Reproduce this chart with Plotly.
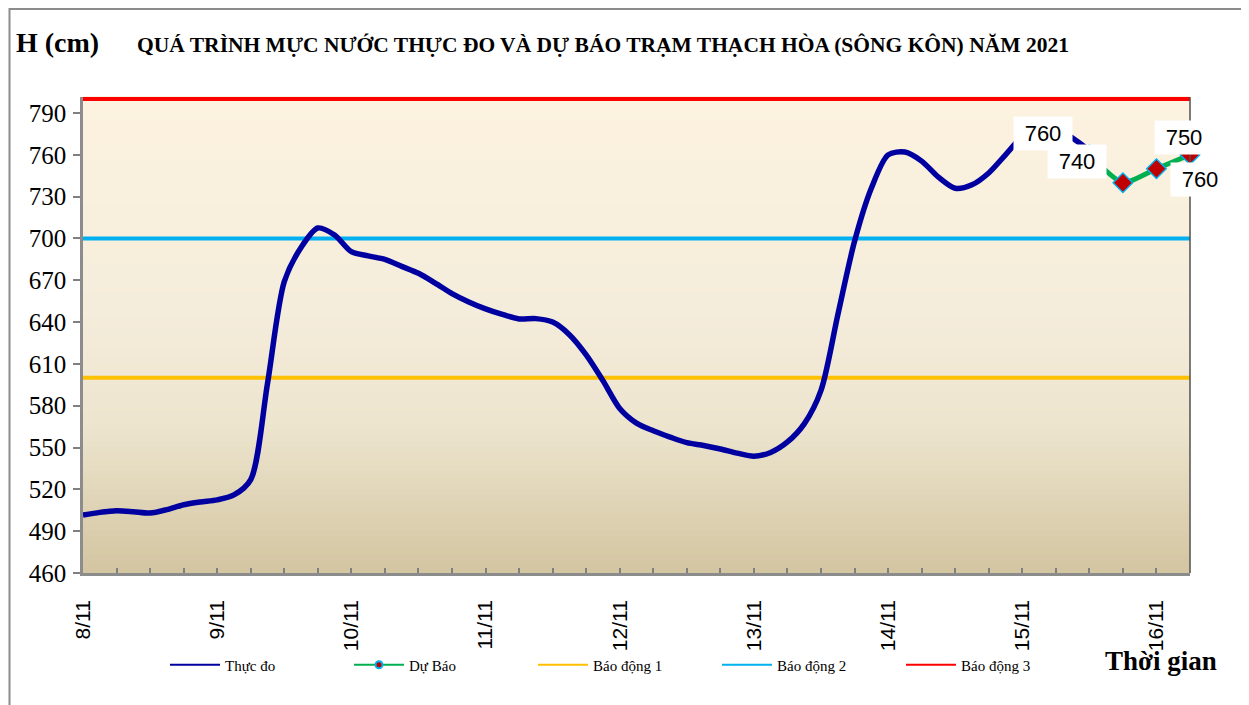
import plotly.graph_objects as go

# ---------------- data ----------------
DAY_LABELS = ["8/11", "9/11", "10/11", "11/11", "12/11", "13/11", "14/11", "15/11", "16/11"]
DAY_HOURS = [0, 24, 48, 72, 96, 120, 144, 168, 192]

OBS_HOURS = [0, 3, 6, 9, 12, 15, 18, 21, 24, 27, 30, 33, 36, 39, 42, 45, 48, 51, 54, 57,
             60, 63, 66, 69, 72, 75, 78, 81, 84, 87, 90, 93, 96, 99, 102, 105, 108, 111,
             114, 117, 120, 123, 126, 129, 132, 135, 138, 141, 144, 147, 150, 153, 156,
             159, 162, 165, 168, 171, 174, 177, 180]
OBS_LEVEL = [501.5, 503.5, 504.7, 504, 503, 505.5, 509, 511, 512.5, 516, 527, 596, 669,
             693.5, 707.5, 702.5, 690.5, 687.5, 685, 680, 675, 668, 660.5, 654.5, 649.5,
             645.5, 642.3, 642.5, 640, 631, 616.5, 598, 578, 567.5, 562, 557.5, 553.5,
             551.5, 549, 546, 543.8, 546.5, 554, 567, 591, 645, 698, 736, 760, 762,
             755.5, 744, 736, 738.5, 747, 760, 773, 779, 778, 772, 763]

FC_HOURS = [180, 186, 192, 198]
FC_LEVEL = [760, 740, 750, 760]

ALARM_NAMES = ["Báo động 1", "Báo động 2", "Báo động 3"]
ALARM_LEVELS = [600, 700, 800]
ALARM_COLORS = ["#FFC000", "#00B0F0", "#FF0000"]

Y_TICKS = [460, 490, 520, 550, 580, 610, 640, 670, 700, 730, 760, 790]

# ---------------- layout geometry ----------------
# the page body has an 8px margin, so work in page pixels minus that offset
OFF = 8
W, H = 1249 - OFF, 705 - OFF
L, T = 83 - OFF, 97 - OFF
PR, PB = 1190 - OFF, 573 - OFF          # plot right / bottom edges
R, B = W - PR, H - PB
PW, PH = PR - L, PB - T


def px(xp):
    return (xp - OFF - L) / PW


def py(yp):
    return (PB - (yp - OFF)) / PH


X_MIN = min(OBS_HOURS)
X_MAX = max(FC_HOURS)

OBS_COLOR, FC_COLOR = "#0000A0", "#00B050"

fig = go.Figure()

# alarm levels (drawn first, beneath the data lines)
for name, lvl, col in zip(ALARM_NAMES, ALARM_LEVELS, ALARM_COLORS):
    fig.add_trace(go.Scatter(
        x=[X_MIN, X_MAX], y=[lvl, lvl], name=name, mode="lines",
        line=dict(color=col, width=4), showlegend=False,
    ))
# observed
fig.add_trace(go.Scatter(
    x=OBS_HOURS, y=OBS_LEVEL, name="Thực đo", mode="lines",
    line=dict(color=OBS_COLOR, width=5.5, shape="spline", smoothing=0.8),
    showlegend=False,
))
# forecast
fig.add_trace(go.Scatter(
    x=FC_HOURS, y=FC_LEVEL, name="Dự Báo", mode="lines+markers",
    line=dict(color=FC_COLOR, width=5, shape="spline", smoothing=0.6),
    marker=dict(symbol="diamond", size=15, color="#C00000",
                line=dict(color="#00B0F0", width=1.5)),
    cliponaxis=False, showlegend=False,
))

# legend entries (thin samples, as in the original legend)
fig.add_trace(go.Scatter(x=[None], y=[None], name="Thực đo", mode="lines",
                         line=dict(color=OBS_COLOR, width=2)))
fig.add_trace(go.Scatter(x=[None], y=[None], name="Dự Báo", mode="lines+markers",
                         line=dict(color=FC_COLOR, width=2),
                         marker=dict(symbol="circle", size=7, color="#C00000",
                                     line=dict(color="#00B0F0", width=2))))
for name, col in zip(ALARM_NAMES, ALARM_COLORS):
    fig.add_trace(go.Scatter(x=[None], y=[None], name=name, mode="lines",
                             line=dict(color=col, width=2)))

# ---------------- background gradient ----------------
stops = [(0.0, (252, 242, 223)), (0.45, (245, 237, 219)), (0.7, (236, 228, 205)),
         (1.0, (211, 197, 161))]


def grad(t):
    for (t0, c0), (t1, c1) in zip(stops[:-1], stops[1:]):
        if t0 <= t <= t1:
            f = (t - t0) / (t1 - t0)
            return "rgb(%d,%d,%d)" % tuple(round(a + (b - a) * f) for a, b in zip(c0, c1))
    return "rgb(%d,%d,%d)" % stops[-1][1]


shapes = []
N = 80
for i in range(N):
    t = (i + 0.5) / N
    shapes.append(dict(type="rect", xref="paper", yref="paper", x0=0, x1=1,
                       y0=1 - (i + 1) / N - 0.002, y1=1 - i / N + 0.002,
                       fillcolor=grad(t), line=dict(width=0), layer="below"))
# right border of plot
shapes.append(dict(type="line", xref="paper", yref="paper", x0=1, x1=1, y0=0, y1=1,
                   line=dict(color="#505050", width=1.5), layer="above"))
# outer frame
shapes.append(dict(type="rect", xref="paper", yref="paper",
                   x0=px(9.5), x1=px(1242), y0=py(715), y1=py(9),
                   line=dict(color="#8C8C8C", width=2), fillcolor="rgba(0,0,0,0)",
                   layer="below"))

# ---------------- annotations ----------------
ann = [
    dict(text="<b>H (cm)</b>", xref="paper", yref="paper", x=px(14), y=py(43),
         xanchor="left", yanchor="middle", showarrow=False,
         font=dict(family="Liberation Serif", size=28, color="black")),
    dict(text="<b>QUÁ TRÌNH MỰC NƯỚC THỰC ĐO VÀ DỰ BÁO TRẠM THẠCH HÒA (SÔNG KÔN) NĂM 2021</b>",
         xref="paper", yref="paper", x=px(135), y=py(45),
         xanchor="left", yanchor="middle", showarrow=False,
         font=dict(family="Liberation Serif", size=21.5, color="black")),
    dict(text="<b>Thời gian</b>", xref="paper", yref="paper", x=px(1161), y=py(661),
         xanchor="center", yanchor="middle", showarrow=False,
         font=dict(family="Liberation Serif", size=27, color="black")),
]
label_shift = [(-46, 21), (-46, 21), (28, 31), (10, -25)]
for xv, yv, (dx, dy) in zip(FC_HOURS, FC_LEVEL, label_shift):
    ann.append(dict(text=str(yv), x=xv, y=yv, xref="x", yref="y", showarrow=False,
                    xshift=dx, yshift=dy, bgcolor="white", width=56, height=31,
                    font=dict(family="Liberation Sans", size=22, color="black")))

fig.update_layout(
    width=W, height=H,
    margin=dict(l=L, r=R, t=T, b=B, autoexpand=False),
    paper_bgcolor="white", plot_bgcolor="rgba(0,0,0,0)",
    showlegend=True,
    legend=dict(orientation="h", x=px(165), y=py(665), xanchor="left", yanchor="middle",
                font=dict(family="Liberation Serif", size=15, color="black"),
                itemwidth=50, entrywidth=119, bgcolor="rgba(0,0,0,0)",
                traceorder="normal"),
    shapes=shapes,
    annotations=ann,
    xaxis=dict(range=[X_MIN, X_MAX], tickmode="array", tickvals=DAY_HOURS,
               ticktext=DAY_LABELS, tickangle=-90, ticks="inside", ticklen=5,
               tickcolor="#808080", tickwidth=1.5,
               minor=dict(tickmode="linear", tick0=0, dtick=6, ticks="inside",
                          ticklen=5, tickcolor="#808080", tickwidth=1.5),
               showgrid=False, zeroline=False, showline=True, linecolor="#8C8C8C",
               linewidth=2.5, ticklabelstandoff=16,
               tickfont=dict(family="Liberation Sans", size=21, color="black")),
    yaxis=dict(range=[460, 801.5], tickmode="array", tickvals=Y_TICKS,
               ticks="outside", ticklen=7, tickcolor="#808080", tickwidth=1.5,
               showgrid=False, zeroline=False, showline=True, linecolor="#8C8C8C",
               linewidth=2.5, ticklabelstandoff=2,
               tickfont=dict(family="Liberation Serif", size=25, color="black")),
)

fig.write_html("out.html")
